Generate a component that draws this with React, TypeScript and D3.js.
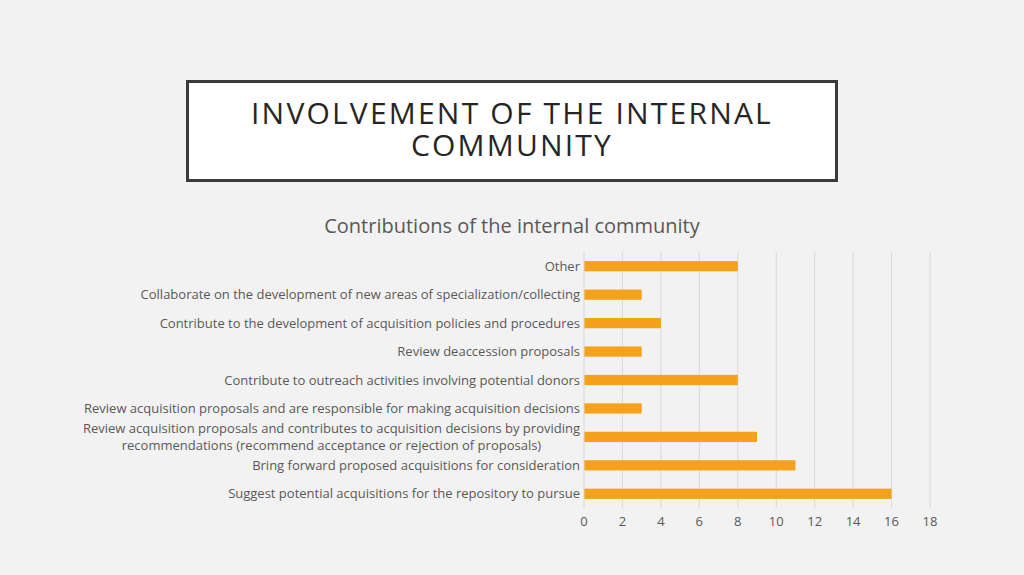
import { useEffect, useRef } from 'react';
import * as d3 from 'd3';

// categories top -> bottom, as drawn
const categories = [
  'Other',
  'Collaborate on the development of new areas of specialization/collecting',
  'Contribute to the development of acquisition policies and procedures',
  'Review deaccession proposals',
  'Contribute to outreach activities involving potential donors',
  'Review acquisition proposals and are responsible for making acquisition decisions',
  'Review acquisition proposals and contributes to acquisition decisions by providing|recommendations (recommend acceptance or rejection of proposals)',
  'Bring forward proposed acquisitions for consideration',
  'Suggest potential acquisitions for the repository to pursue',
];
const counts = [8, 3, 4, 3, 8, 3, 9, 11, 16];
const xTicks = [0, 2, 4, 6, 8, 10, 12, 14, 16, 18];

const W = 1024;
const H = 575;
const FONT = '"Open Sans", "Noto Sans", sans-serif';

export default function App() {
  const svgRef = useRef<SVGSVGElement>(null);

  useEffect(() => {
    const svg = d3.select(svgRef.current);
    svg.selectAll('*').remove();

    svg.append('rect').attr('width', W).attr('height', H).attr('fill', '#f2f2f2');

    // title box
    svg.append('rect')
      .attr('x', 187.5).attr('y', 81.5).attr('width', 649).attr('height', 99)
      .attr('fill', '#ffffff').attr('stroke', '#3a3a3a').attr('stroke-width', 3);
    const titleLines = ['INVOLVEMENT OF THE INTERNAL', 'COMMUNITY'];
    const title = svg.append('text')
      .attr('text-anchor', 'middle')
      .attr('font-family', FONT).attr('font-size', 30)
      .attr('letter-spacing', 2.2)
      .attr('fill', '#262626');
    titleLines.forEach((t, i) => {
      title.append('tspan').attr('x', 512).attr('y', 124 + i * 32).text(t);
    });

    svg.append('text')
      .attr('x', 512).attr('y', 233)
      .attr('text-anchor', 'middle')
      .attr('font-family', FONT).attr('font-size', 20)
      .attr('fill', '#595959')
      .text('Contributions of the internal community');

    const x = d3.scaleLinear().domain([0, 18]).range([584, 930]);
    const y = d3.scaleBand<string>().domain(categories).range([252, 508]).paddingInner(0.64).paddingOuter(0.32);

    // gridlines
    svg.append('g')
      .selectAll('line')
      .data(xTicks.slice(1))
      .join('line')
      .attr('x1', d => x(d)).attr('x2', d => x(d))
      .attr('y1', 252).attr('y2', 508)
      .attr('stroke', '#d9d9d9').attr('stroke-width', 1);

    // bars
    svg.append('g')
      .selectAll('rect')
      .data(categories)
      .join('rect')
      .attr('x', x(0))
      .attr('y', d => y(d)!)
      .attr('width', (_, i) => x(counts[i]) - x(0))
      .attr('height', y.bandwidth())
      .attr('fill', '#f4a11e');

    // axis line at zero
    svg.append('line')
      .attr('x1', x(0)).attr('x2', x(0)).attr('y1', 252).attr('y2', 508)
      .attr('stroke', '#d9d9d9');

    // category labels
    const lab = svg.append('g')
      .attr('font-family', FONT).attr('font-size', 13).attr('fill', '#595959');
    categories.forEach(c => {
      const cy = y(c)! + y.bandwidth() / 2;
      const lines = c.split('|');
      if (lines.length === 1) {
        lab.append('text').attr('x', 580).attr('y', cy).attr('dy', '0.35em')
          .attr('text-anchor', 'end').text(c);
      } else {
        const first = lab.append('text').attr('x', 580).attr('y', cy - 8.5).attr('dy', '0.35em')
          .attr('text-anchor', 'end').text(lines[0]);
        const w = (first.node() as SVGTextElement).getComputedTextLength();
        lab.append('text').attr('x', 580 - w / 2).attr('y', cy + 8.5).attr('dy', '0.35em')
          .attr('text-anchor', 'middle').text(lines[1]);
      }
    });

    // x tick labels
    svg.append('g')
      .attr('font-family', FONT).attr('font-size', 13).attr('fill', '#595959')
      .selectAll('text')
      .data(xTicks)
      .join('text')
      .attr('x', d => x(d)).attr('y', 521).attr('dy', '0.35em')
      .attr('text-anchor', 'middle')
      .text(d => String(d));
  }, []);

  return (
    <div style={{ position: 'fixed', left: 0, top: 0 }}>
      <svg ref={svgRef} width={W} height={H} style={{ display: 'block' }} />
    </div>
  );
}
